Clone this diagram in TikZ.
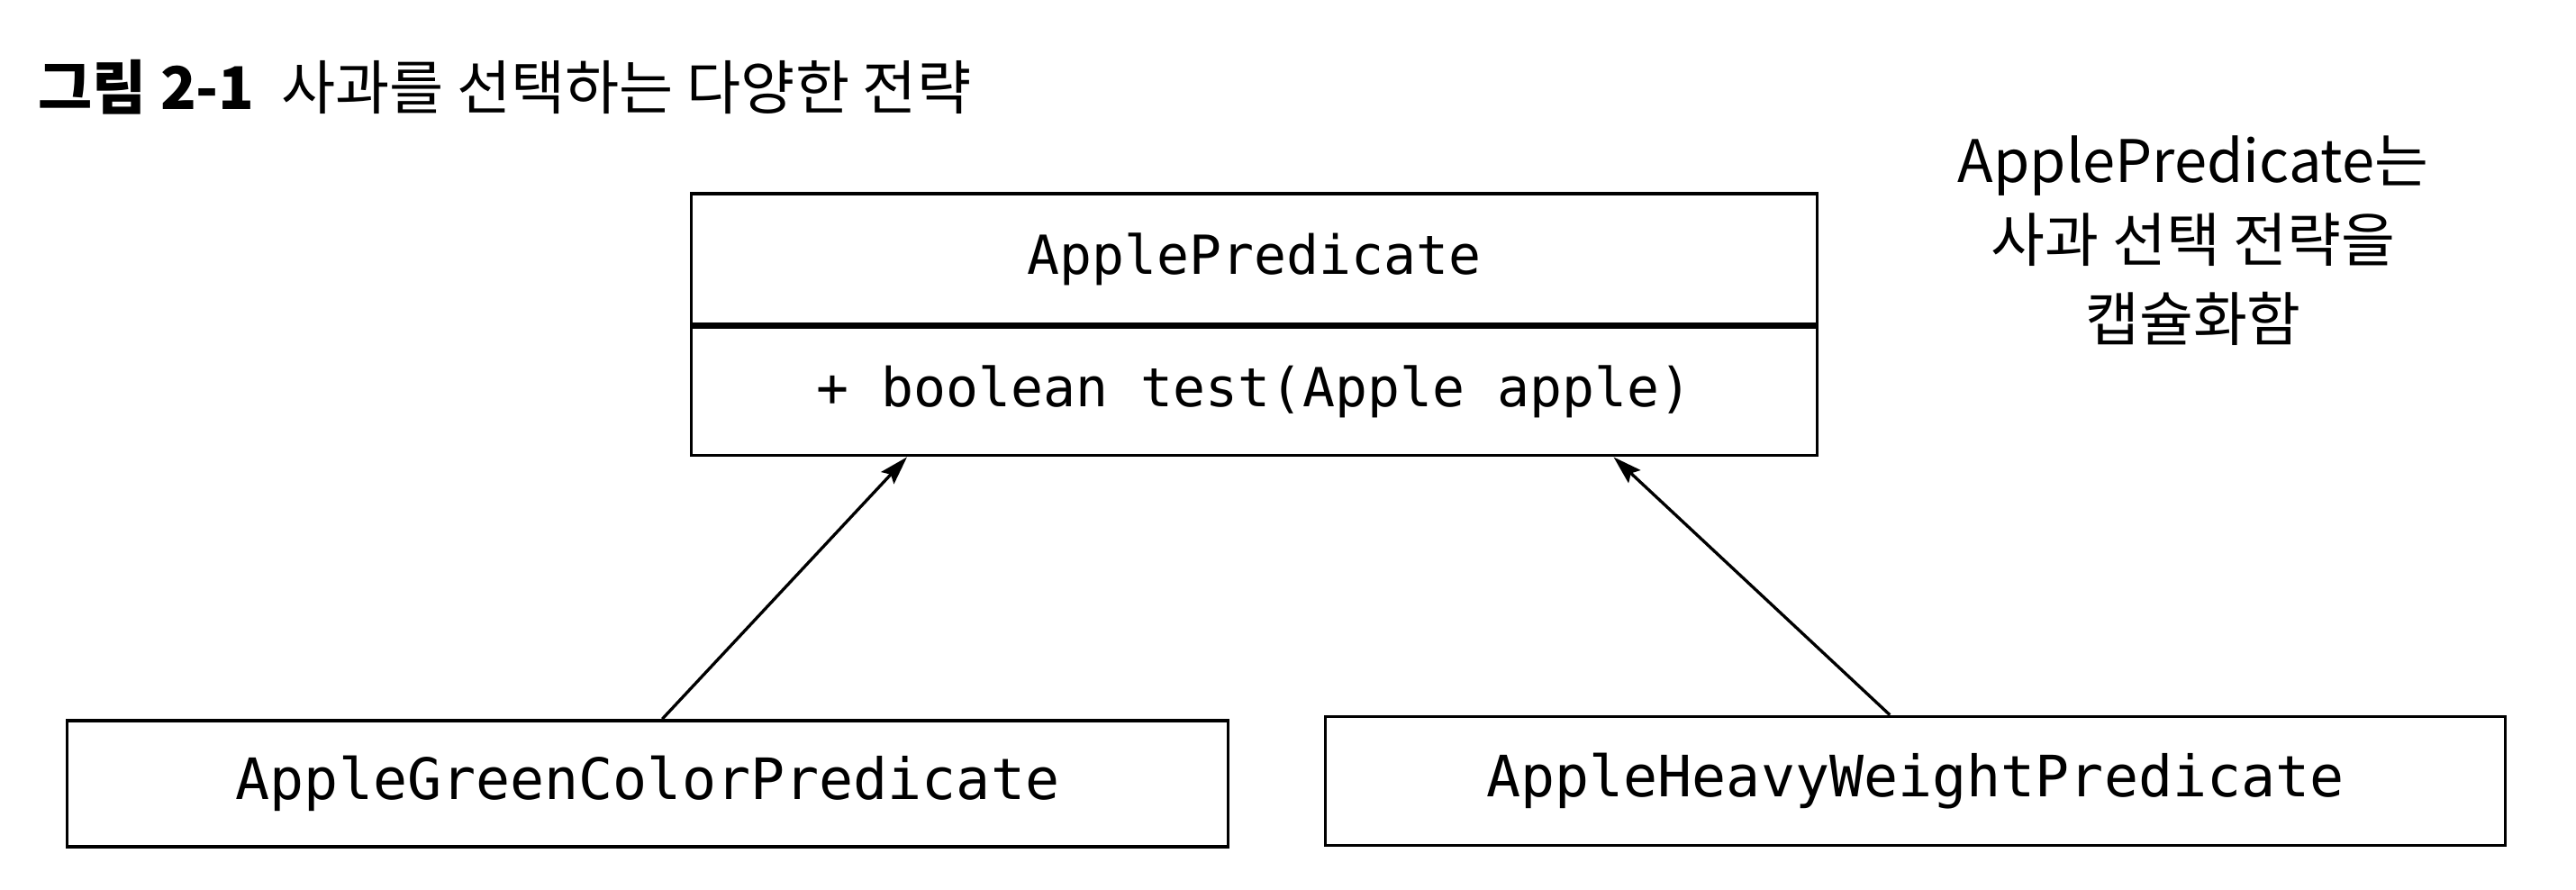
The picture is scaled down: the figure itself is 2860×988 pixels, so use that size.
\documentclass[tikz,border=0pt]{standalone}
\usepackage{fontspec}
\newfontfamily\krfont{Noto Sans CJK KR}
\newfontfamily\monofont{DejaVu Sans Mono}
\usetikzlibrary{arrows.meta}
\tikzset{
  classbox/.style={draw=black, line width=1pt, rectangle, inner sep=0pt, font=\monofont\fontsize{17}{20}\selectfont},
  subbox/.style={classbox, font=\monofont\fontsize{18}{21}\selectfont},
  inherit/.style={draw=black, line width=0.95pt, -{Stealth[length=9pt,width=5.5pt,inset=1.5pt]}},
  notetext/.style={font=\krfont\fontsize{18.5}{22}\selectfont, inner sep=0pt, anchor=base},
}
\begin{document}
\begin{tikzpicture}[x=0.01cm, y=-0.01cm]
\useasboundingbox (0,0) rectangle (2860,988);
% title
\node[anchor=base west, inner sep=0pt, font=\krfont\fontsize{18.6}{22}\selectfont] (title) at (42,122)
  {{\bfseries 그림 2-1}\hspace{0.45em}사과를 선택하는 다양한 전략};
% top class
\node[classbox, minimum width=12.49cm, minimum height=1.45cm] (hdr) at (1392.5,287.5) {ApplePredicate};
\node[classbox, minimum width=12.49cm, minimum height=1.42cm, anchor=north] (meth) at (hdr.south) {+ boolean test(Apple apple)};
% subclasses
\node[subbox, minimum width=12.88cm, minimum height=1.40cm] (gl) at (719,870) {AppleGreenColorPredicate};
\node[subbox, minimum width=13.09cm, minimum height=1.43cm] (hw) at (2126.5,867) {AppleHeavyWeightPredicate};
% arrows
\draw[inherit] ([xshift=6.62cm]gl.north west) -- ([xshift=2.41cm]meth.south west);
\draw[inherit] ([xshift=6.28cm]hw.north west) -- ([xshift=10.25cm]meth.south west);
% note
\node[notetext] (n1) at (2435,203) {ApplePredicate는};
\node[notetext] (n2) at (2435,291) {사과 선택 전략을};
\node[notetext] (n3) at (2435,378) {캡슐화함};
\end{tikzpicture}
\end{document}
